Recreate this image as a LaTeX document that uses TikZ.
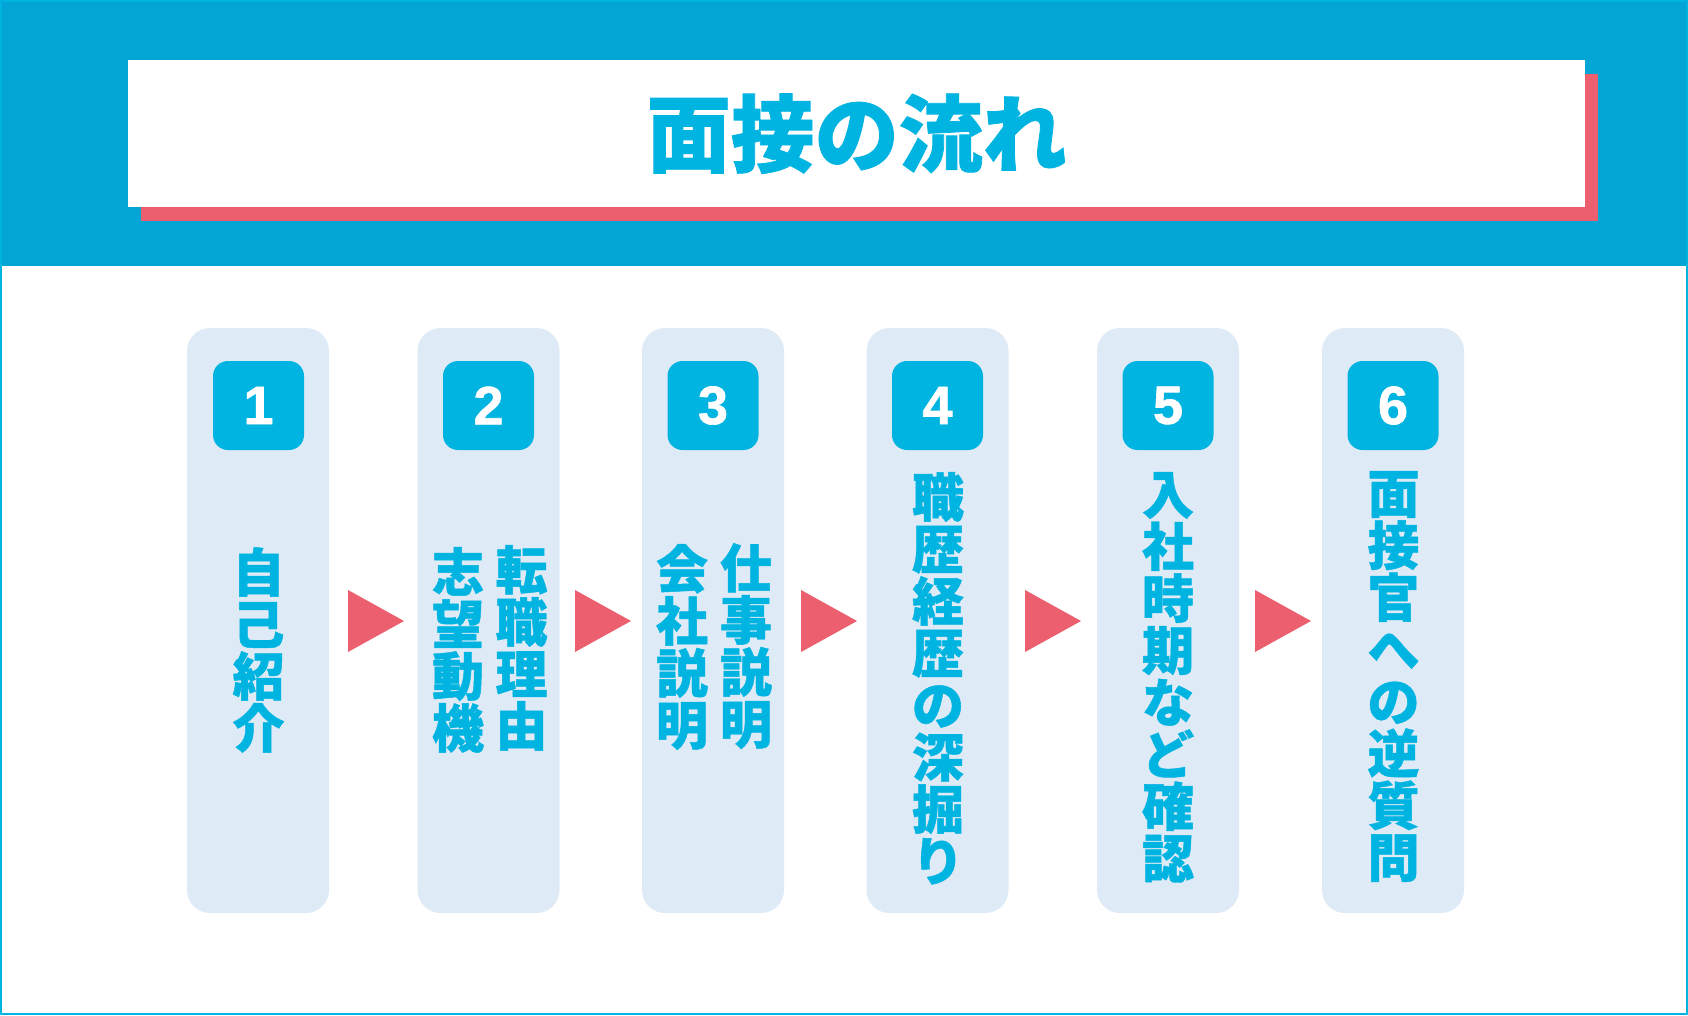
\documentclass[tikz,border=0pt]{standalone}
\usepackage{fontspec}
\newfontfamily\jp{Noto Sans CJK JP}[BoldFeatures={FakeBold=0.9}]
\newfontfamily\digitfont{Liberation Sans}[BoldFeatures={FakeBold=1.2}]
\definecolor{bandblue}{HTML}{02A5D4}
\definecolor{mycyan}{HTML}{00B4E2}
\definecolor{boxfill}{HTML}{DEEAF6}
\definecolor{myred}{HTML}{EC5F6E}
\begin{document}
\begin{tikzpicture}[x=1pt,y=-1pt,
  stagebox/.style={fill=boxfill, minimum width=142pt, minimum height=585pt, rounded corners=23pt, inner sep=0pt},
  numbox/.style={fill=mycyan, minimum width=91pt, minimum height=89pt, rounded corners=15pt, inner sep=0pt, text=white, font=\digitfont\bfseries\fontsize{54}{54}\selectfont},
  vtext/.style={text=mycyan, font=\jp\bfseries\fontsize{52}{52}\selectfont, align=center, inner sep=0pt, anchor=north},
  tri/.style={fill=myred}]
\useasboundingbox (0,0) rectangle (1688,1015);
\fill[white] (0,0) rectangle (1688,1015);
\fill[bandblue] (0,0) rectangle (1688,266);
\fill[myred] (141,74) rectangle (1598,221);
\node[fill=white, minimum width=1457pt, minimum height=147pt, inner sep=0pt, anchor=north west] (titlebox) at (128,60) {};
\node[text=mycyan, font=\jp\bfseries\fontsize{84}{84}\selectfont, inner sep=0pt] (title) at (titlebox.center) {面接の流れ};

\node[stagebox] (s1) at (258,620.5) {};
\node[stagebox] (s2) at (488.5,620.5) {};
\node[stagebox] (s3) at (713,620.5) {};
\node[stagebox] (s4) at (937.5,620.5) {};
\node[stagebox] (s5) at (1168,620.5) {};
\node[stagebox] (s6) at (1393,620.5) {};

\node[numbox] (n1) at (258.5,405.5) {1};
\node[numbox] (n2) at (488.5,405.5) {2};
\node[numbox] (n3) at (713,405.5) {3};
\node[numbox] (n4) at (937.5,405.5) {4};
\node[numbox] (n5) at (1168,405.5) {5};
\node[numbox] (n6) at (1393,405.5) {6};

\node[vtext] (t1) at (258.5,547) {自\\己\\紹\\介};
\node[vtext] (t2a) at (521.5,545) {転\\職\\理\\由};
\node[vtext] (t2b) at (458,547) {志\\望\\動\\機};
\node[vtext] (t3a) at (746,543) {仕\\事\\説\\明};
\node[vtext] (t3b) at (682,544) {会\\社\\説\\明};
\node[vtext] (t4) at (938,472) {職\\歴\\経\\歴\\の\\深\\掘\\り};
\node[vtext] (t5) at (1168,472) {入\\社\\時\\期\\な\\ど\\確\\認};
\node[vtext] (t6) at (1393.5,471) {面\\接\\官\\へ\\の\\逆\\質\\問};

\foreach \xl in {348,575,801,1025,1255}
  \fill[tri] (\xl,590) -- (\xl+56,621) -- (\xl,652) -- cycle;

\draw[mycyan, line width=2pt] (1,1) rectangle (1687,1014);
\end{tikzpicture}
\end{document}
